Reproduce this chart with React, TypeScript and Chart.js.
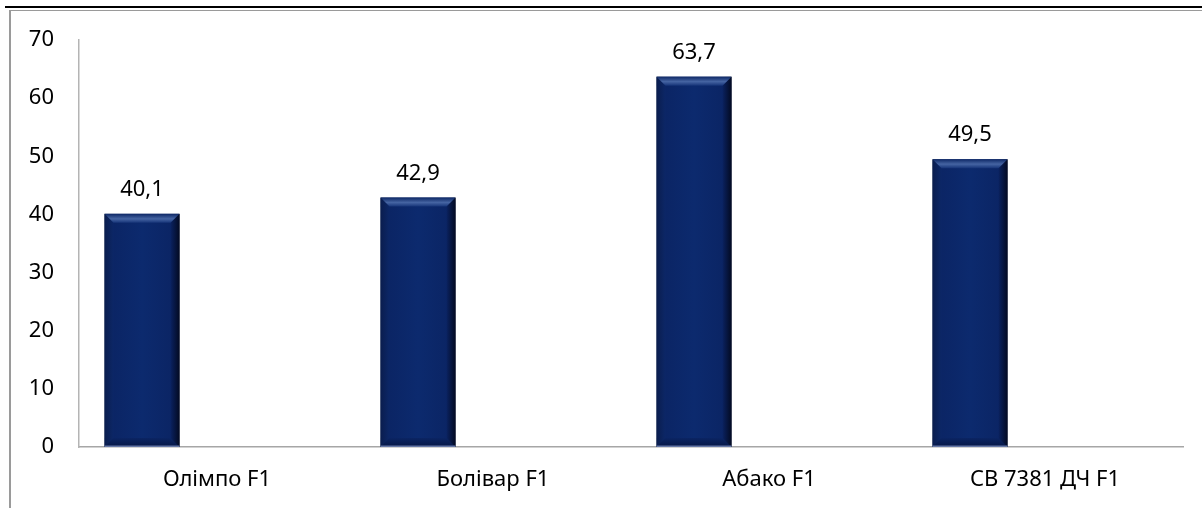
import React, { useEffect, useRef } from "react";
import { Chart, registerables } from "chart.js";

Chart.register(...registerables);

const categories = ["Олімпо F1", "Болівар F1", "Абако F1", "СВ 7381 ДЧ F1"];
const values = [40.1, 42.9, 63.7, 49.5];
const emptySeriesA = [null, null, null, null];
const emptySeriesB = [null, null, null, null];
const yTicks = [0, 10, 20, 30, 40, 50, 60, 70];

const FONT = "'Noto Sans', 'Open Sans', sans-serif";
const FSIZE = 22;

const bevelPlugin = {
  id: "bevel",
  afterDatasetsDraw(chart: any) {
    const ctx = chart.ctx;
    const meta = chart.getDatasetMeta(0);
    meta.data.forEach((bar: any, i: number) => {
      const v = values[i];
      if (v == null) return;
      const { x, y, base, width } = bar.getProps(["x", "y", "base", "width"], true);
      const l = x - width / 2;
      const r = x + width / 2;
      const t = y;
      const b = base;
      const bv = 9;
      ctx.save();
      const g = ctx.createLinearGradient(l, 0, r, 0);
      g.addColorStop(0, "#07193f");
      g.addColorStop(0.12, "#0b2565");
      g.addColorStop(0.5, "#0c2a6e");
      g.addColorStop(0.88, "#0b2565");
      g.addColorStop(1, "#050f2c");
      ctx.fillStyle = g;
      ctx.fillRect(l, t, r - l, b - t);
      ctx.beginPath();
      ctx.moveTo(l, t);
      ctx.lineTo(l + bv, t + bv);
      ctx.lineTo(l + bv, b - bv);
      ctx.lineTo(l, b);
      ctx.closePath();
      const gl = ctx.createLinearGradient(l, 0, l + bv, 0);
      gl.addColorStop(0, "#0a1d4e");
      gl.addColorStop(1, "#0c2767");
      ctx.fillStyle = gl;
      ctx.fill();
      ctx.beginPath();
      ctx.moveTo(r, t);
      ctx.lineTo(r - bv, t + bv);
      ctx.lineTo(r - bv, b - bv);
      ctx.lineTo(r, b);
      ctx.closePath();
      const gr = ctx.createLinearGradient(r - bv, 0, r, 0);
      gr.addColorStop(0, "#0a2260");
      gr.addColorStop(1, "#030a22");
      ctx.fillStyle = gr;
      ctx.fill();
      ctx.beginPath();
      ctx.moveTo(l, t);
      ctx.lineTo(r, t);
      ctx.lineTo(r - bv, t + bv);
      ctx.lineTo(l + bv, t + bv);
      ctx.closePath();
      const gt = ctx.createLinearGradient(0, t, 0, t + bv);
      gt.addColorStop(0, "#0e2866");
      gt.addColorStop(0.55, "#4564a2");
      gt.addColorStop(1, "#163478");
      ctx.fillStyle = gt;
      ctx.fill();
      ctx.beginPath();
      ctx.moveTo(l, b);
      ctx.lineTo(r, b);
      ctx.lineTo(r - bv, b - bv);
      ctx.lineTo(l + bv, b - bv);
      ctx.closePath();
      const gb = ctx.createLinearGradient(0, b - bv, 0, b);
      gb.addColorStop(0, "#0b2463");
      gb.addColorStop(1, "#061745");
      ctx.fillStyle = gb;
      ctx.fill();
      ctx.fillStyle = "#6577a6";
      ctx.fillRect(l, b - 1.5, r - l, 1.5);
      ctx.fillStyle = "#000";
      ctx.font = `${FSIZE}px ${FONT}`;
      ctx.textAlign = "center";
      ctx.textBaseline = "alphabetic";
      ctx.fillText(String(v).replace(".", ","), x, t - 18);
      ctx.restore();
    });
  },
};

export default function App() {
  const ref = useRef<HTMLCanvasElement | null>(null);
  useEffect(() => {
    document.body.style.margin = "0";
    const chart = new Chart(ref.current as HTMLCanvasElement, {
      type: "bar",
      data: {
        labels: categories,
        datasets: [
          { data: values, backgroundColor: "rgba(0,0,0,0)", categoryPercentage: 0.815, barPercentage: 1 },
          { data: emptySeriesA as any, backgroundColor: "rgba(0,0,0,0)", categoryPercentage: 0.815, barPercentage: 1 },
          { data: emptySeriesB as any, backgroundColor: "rgba(0,0,0,0)", categoryPercentage: 0.815, barPercentage: 1 },
        ],
      },
      options: {
        animation: false,
        responsive: false,
        layout: { padding: { left: 0, right: 19, top: 40, bottom: 0 } },
        plugins: { legend: { display: false }, tooltip: { enabled: false }, title: { display: false } },
        scales: {
          x: {
            grid: { display: false, drawTicks: false },
            border: { display: true, color: "#a6a6a6", width: 1.5 },
            ticks: { color: "#000", font: { size: FSIZE, family: FONT }, padding: 20, maxRotation: 0 },
            afterFit(scale: any) {
              scale.height = 61;
            },
          },
          y: {
            min: 0,
            max: 70,
            afterBuildTicks(scale: any) {
              scale.ticks = yTicks.map((v) => ({ value: v }));
            },
            grid: { display: false, drawTicks: false },
            border: { display: true, color: "#b4b4b4", width: 1.5 },
            ticks: { color: "#000", font: { size: FSIZE, family: FONT }, padding: 25 },
            afterFit(scale: any) {
              scale.width = 79;
            },
          },
        },
      },
      plugins: [bevelPlugin],
    });
    return () => chart.destroy();
  }, []);
  return (
    <div style={{ position: "relative", width: 1202, height: 508, background: "#fff", overflow: "hidden" }}>
      <canvas ref={ref} width={1202} height={508} style={{ position: "absolute", left: 0, top: 0 }} />
      <div style={{ position: "absolute", left: 5, top: 6, width: 1197, height: 2, background: "#000" }} />
      <div style={{ position: "absolute", left: 10, top: 10, width: 1192, height: 1, background: "#9a9a9a" }} />
      <div style={{ position: "absolute", left: 9, top: 10, width: 1.5, height: 498, background: "#9a9a9a" }} />
    </div>
  );
}
